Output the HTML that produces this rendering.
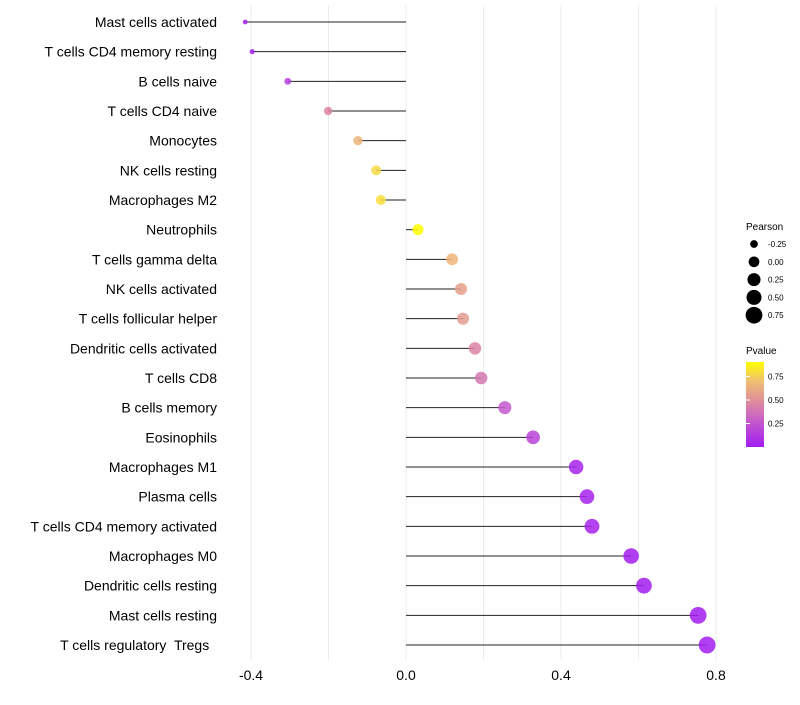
<!DOCTYPE html>
<html><head><meta charset="utf-8"><style>
body{margin:0;background:#fff;font-family:"Liberation Sans",sans-serif}
text{white-space:pre}
</style></head><body>
<svg id="chart" width="800" height="700" xmlns="http://www.w3.org/2000/svg" font-family="Liberation Sans, sans-serif">
<defs><linearGradient id="pg" x1="0" y1="1" x2="0" y2="0">
<stop offset="0" stop-color="#a21cf0"/><stop offset="0.33" stop-color="#c860c8"/><stop offset="0.55" stop-color="#e0909a"/><stop offset="0.78" stop-color="#f0c070"/><stop offset="1" stop-color="#ffff00"/></linearGradient></defs>
<g id="grid"></g><g id="marks"></g><g id="labels"></g><g id="legend"></g>
</svg>
<script>
const categories=["Mast cells activated","T cells CD4 memory resting","B cells naive","T cells CD4 naive","Monocytes","NK cells resting","Macrophages M2","Neutrophils","T cells gamma delta","NK cells activated","T cells follicular helper","Dendritic cells activated","T cells CD8","B cells memory","Eosinophils","Macrophages M1","Plasma cells","T cells CD4 memory activated","Macrophages M0","Dendritic cells resting","Mast cells resting","T cells regulatory  Tregs  "];
const pearson=[-0.415,-0.397,-0.305,-0.201,-0.124,-0.077,-0.065,0.031,0.119,0.142,0.147,0.178,0.194,0.255,0.328,0.439,0.467,0.480,0.581,0.614,0.754,0.777];
const pvalue=[0.02,0.03,0.15,0.45,0.65,0.78,0.8,0.9,0.65,0.57,0.55,0.45,0.4,0.27,0.17,0.04,0.03,0.03,0.005,0.003,0.001,0.001];
const xTicks=[-0.4,0,0.4,0.8];
const xTickLabels=["-0.4","0.0","0.4","0.8"];
const sizeLegend=[-0.25,0,0.25,0.5,0.75];
const pvLegend=[0.25,0.5,0.75];
const NS="http://www.w3.org/2000/svg";
const x=v=>406+v*387.5;
const y=i=>22+i*29.667;
const r=v=>Math.sqrt(4+(v+0.45)*55);
const stops=[[0,[162,28,240]],[0.3,[200,96,200]],[0.5,[224,144,154]],[0.7,[240,192,112]],[0.9,[255,255,0]]];
function col(p){p=Math.max(0,Math.min(0.9,p));for(let k=1;k<stops.length;k++){if(p<=stops[k][0]){const a=stops[k-1],b=stops[k],t=(p-a[0])/(b[0]-a[0]);return"rgb("+a[1].map((c,j)=>Math.round(c+(b[1][j]-c)*t)).join(",")+")";}}return"rgb(255,255,0)";}
function el(t,a,p){const e=document.createElementNS(NS,t);for(const k in a)e.setAttribute(k,a[k]);p.appendChild(e);return e;}
const G=document.getElementById("grid"),M=document.getElementById("marks"),L=document.getElementById("labels"),Lg=document.getElementById("legend");
for(let v=-0.4;v<=0.81;v+=0.2){const g=el("line",{x1:x(v),x2:x(v),y1:5,y2:660,stroke:"#ebebeb","stroke-width":1},G);

}
xTicks.forEach((v,i)=>{const t=el("text",{x:x(v),y:680,"text-anchor":"middle","font-size":14,fill:"#000"},L);t.textContent=xTickLabels[i];

});
categories.forEach((c,i)=>{
const t=el("text",{x:217,y:y(i)+5,"text-anchor":"end","font-size":14,fill:"#000"},L);t.textContent=c;


const ln=el("line",{x1:x(0),x2:x(pearson[i]),y1:y(i),y2:y(i),stroke:"#222","stroke-width":1},M);


const d=el("circle",{cx:x(pearson[i]),cy:y(i),r:r(pearson[i]),fill:col(pvalue[i]),"fill-opacity":0.85},M);


});
let t=el("text",{x:746,y:230,"font-size":10},Lg);t.textContent="Pearson";


sizeLegend.forEach((v,i)=>{const cy=244+i*17.8;
const c=el("circle",{cx:754,cy:cy,r:r(v)},Lg);


const tt=el("text",{x:768,y:cy+3,"font-size":8},Lg);tt.textContent=v.toFixed(2);

});
t=el("text",{x:746,y:354,"font-size":10},Lg);t.textContent="Pvalue";


const bar=el("rect",{x:746,y:362,width:18,height:85,fill:"url(#pg)"},Lg);


pvLegend.forEach(v=>{const cy=447-v*94;
const tk=el("line",{x1:746,x2:750,y1:cy,y2:cy,stroke:"#fff"},Lg);


const tt=el("text",{x:768,y:cy+3,"font-size":8},Lg);tt.textContent=v.toFixed(2);

});
</script>
</body></html>
